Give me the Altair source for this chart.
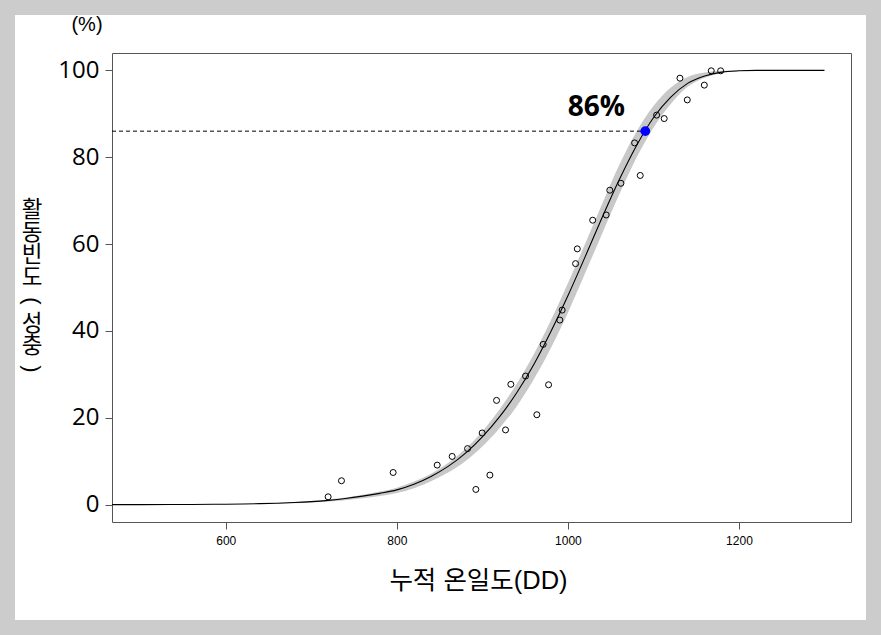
import altair as alt
import pandas as pd

# Fitted activity curve (cumulative degree-days vs. % adult activity)
fit_dd = [467, 500, 560, 600, 620, 640, 660, 680, 700, 720, 740, 760, 780, 800,
          820, 840, 860, 880, 900, 920, 940, 960, 980, 1000, 1020, 1040, 1060,
          1080, 1100, 1120, 1140, 1160, 1180, 1200, 1220, 1260, 1300]
fit_pct = [0.0, 0.0, 0.04, 0.1, 0.15, 0.22, 0.33, 0.48, 0.69, 0.99, 1.4, 1.95,
           2.6, 3.4, 4.7, 6.5, 8.8, 11.8, 15.6, 20.2, 25.7, 32.2, 39.8, 48.1,
           57.0, 66.1, 74.8, 82.6, 89.1, 93.8, 97.0, 98.7, 99.6, 99.9, 100.0,
           100.0, 100.0]

# Confidence band around the fitted curve
band_dd = [660, 680, 700, 720, 740, 760, 780, 800, 820, 840, 860, 880, 900, 920,
           940, 960, 980, 1000, 1020, 1040, 1060, 1080, 1100, 1120, 1140, 1160,
           1180, 1200]
band_lo = [0.2, 0.3, 0.45, 0.7, 1.0, 1.45, 2.0, 2.7, 3.8, 5.4, 7.4, 10.0, 13.4,
           17.6, 22.6, 28.8, 36.0, 44.2, 53.2, 62.4, 71.4, 79.8, 86.8, 92.2,
           96.2, 98.3, 99.4, 99.8]
band_hi = [0.4, 0.6, 0.85, 1.2, 1.65, 2.25, 3.0, 3.9, 5.3, 7.1, 9.6, 12.8, 16.9,
           21.9, 27.8, 34.6, 42.4, 51.0, 60.0, 69.2, 78.2, 85.8, 91.8, 96.0,
           98.5, 99.5, 99.9, 100.0]

# Observed activity frequencies
obs_dd = [719.7, 735.3, 795.7, 847.2, 864.7, 882.7, 892.4, 899.8, 908.8, 916.6,
          927.1, 933.3, 950.5, 963.7, 971.1, 977.4, 990.6, 993.3, 1009.0, 1011.0,
          1029.0, 1044.8, 1049.0, 1062.0, 1078.0, 1084.6, 1103.7, 1112.6, 1131.0,
          1139.6, 1159.5, 1167.6, 1178.6]
obs_pct = [1.8, 5.5, 7.4, 9.1, 11.1, 12.9, 3.5, 16.5, 6.8, 24.0, 17.2, 27.7,
           29.6, 20.7, 36.9, 27.6, 42.5, 44.8, 55.5, 58.9, 65.5, 66.7, 72.4,
           74.0, 83.3, 75.8, 89.7, 88.9, 98.2, 93.2, 96.6, 99.9, 99.9]

# Highlighted point on the curve
mark_dd = 1090.5
mark_pct = 86

x_ticks = [600, 800, 1000, 1200]
y_ticks = [0, 20, 40, 60, 80, 100]
x_domain = [467, 1331]
y_domain = [-4, 104]

# y-axis title, written top to bottom one character per line
y_title_chars = ["활", "동", "빈", "도", "(", "성", "충", ")"]

xs = alt.Scale(domain=x_domain, nice=False, zero=False)
ys = alt.Scale(domain=y_domain, nice=False, zero=False)

fit_df = pd.DataFrame({"dd": fit_dd, "pct": fit_pct})
band_df = pd.DataFrame({"dd": band_dd, "lo": band_lo, "hi": band_hi})
obs_df = pd.DataFrame({"dd": obs_dd, "pct": obs_pct})
mark_df = pd.DataFrame({"dd": [mark_dd], "pct": [mark_pct], "x0": [x_domain[0]],
                        "label": [f"{mark_pct}%"]})

x_axis = alt.Axis(
    values=x_ticks, format="d", grid=False, domain=False,
    tickSize=7, tickColor="#555555", labelFontSize=12, labelColor="black",
    labelFont="Liberation Sans", labelPadding=6,
    title="누적 온일도(DD)", titleFont="Liberation Sans, Noto Sans CJK KR",
    titleFontSize=25.5, titleFontWeight="normal", titleColor="black",
    titleX=366, titleY=58, titleBaseline="middle", titleAlign="center",
    zindex=1,
)
y_axis = alt.Axis(
    values=y_ticks, grid=False, domain=False, title=None,
    tickSize=7, tickColor="#555555", labelFontSize=24, labelColor="black",
    labelFont="Open Sans", labelPadding=6, zindex=1,
)

band = alt.Chart(band_df).mark_area(color="#c8c8c8", interpolate="monotone").encode(
    x=alt.X("dd:Q", scale=xs, axis=x_axis),
    y=alt.Y("lo:Q", scale=ys, axis=y_axis),
    y2="hi:Q",
)

curve = alt.Chart(fit_df).mark_line(color="black", strokeWidth=1.1,
                                    interpolate="monotone").encode(
    x=alt.X("dd:Q", scale=xs),
    y=alt.Y("pct:Q", scale=ys),
)

guide = alt.Chart(mark_df).mark_rule(color="black", strokeWidth=1,
                                     strokeDash=[4, 3]).encode(
    x=alt.X("x0:Q", scale=xs),
    x2="dd:Q",
    y=alt.Y("pct:Q", scale=ys),
)

points = alt.Chart(obs_df).mark_point(shape="circle", filled=False, color="black",
                                      strokeWidth=1, size=36, opacity=1).encode(
    x=alt.X("dd:Q", scale=xs),
    y=alt.Y("pct:Q", scale=ys),
)

highlight = alt.Chart(mark_df).mark_point(shape="circle", filled=True,
                                          color="#0000ff", size=95,
                                          opacity=1).encode(
    x=alt.X("dd:Q", scale=xs),
    y=alt.Y("pct:Q", scale=ys),
)

label = alt.Chart(mark_df).mark_text(font="Open Sans", fontSize=28,
                                     fontWeight="bold", color="black",
                                     align="center", baseline="middle",
                                     dx=-49, dy=-23).encode(
    x=alt.X("dd:Q", scale=xs),
    y=alt.Y("pct:Q", scale=ys),
    text="label:N",
)

unit = alt.Chart(pd.DataFrame({"t": ["(%)"]})).mark_text(
    font="Liberation Sans", fontSize=20, color="black",
    align="center", baseline="middle",
).encode(text="t:N", x=alt.value(-25), y=alt.value(-28))

# vertical y title: syllables upright, brackets turned a quarter turn
title_top = 157
title_step = 22.7
title_marks = []
for k, ch in enumerate(y_title_chars):
    is_bracket = ch in "()"
    title_marks.append(
        alt.Chart(pd.DataFrame({"t": [ch]})).mark_text(
            font="Liberation Sans" if is_bracket else "Noto Sans CJK KR",
            fontSize=22 if is_bracket else 22.5,
            color="black", angle=90 if is_bracket else 0,
            align="center", baseline="middle",
        ).encode(text="t:N", x=alt.value(-80),
                 y=alt.value(title_top + k * title_step))
    )

# grey page border around the white panel
border = alt.Chart(pd.DataFrame({"k": [0]})).mark_rect(
    filled=False, stroke="#cccccc", strokeWidth=30,
).encode(x=alt.value(-112), x2=alt.value(769), y=alt.value(-53), y2=alt.value(582))

chart = alt.layer(band, curve, guide, points, highlight, label, unit,
                  *title_marks, border).properties(
    width=739, height=469,
    autosize=alt.AutoSizeParams(type="none"),
    padding={"left": 112, "top": 53, "right": 30, "bottom": 113},
    background="white",
).configure_view(stroke="#555555", strokeWidth=1, fill="white")

chart.save("out.html", embed_options={"renderer": "svg", "actions": False})
